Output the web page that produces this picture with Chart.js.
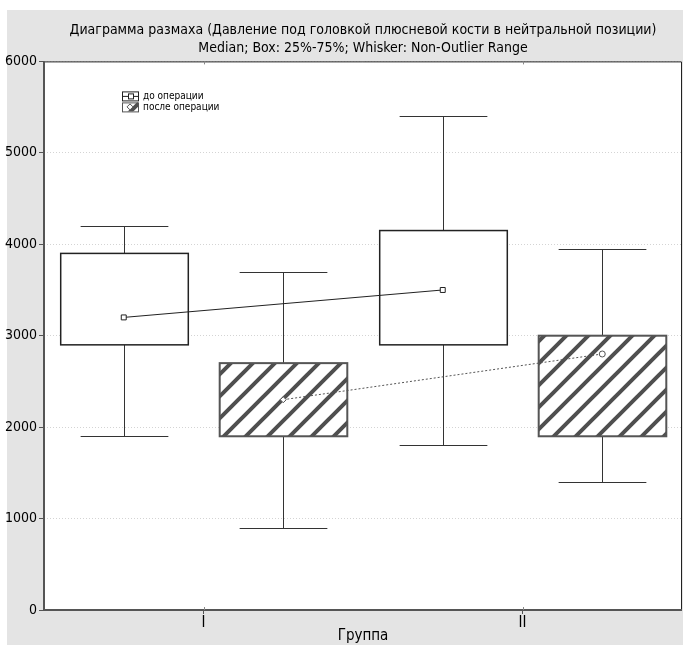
<!DOCTYPE html>
<html lang="ru">
<head>
    <meta charset="UTF-8">
    <title>Диаграмма размаха</title>
    <script src="https://cdn.jsdelivr.net/npm/chart.js"></script>
    <style>
        body { margin: 0; background: #fff; }
        canvas { display: block; }
    </style>
</head>
<body>
    <canvas id="boxChart" width="683" height="645"></canvas>
    <script>
        // chart data
        const groups = ['I', 'II'];
        const seriesNames = ['до операции', 'после операции'];
        const yTicks = [0, 1000, 2000, 3000, 4000, 5000, 6000];

        const beforeMin = [1900, 1800];
        const beforeQ1 = [2900, 2900];
        const beforeMedian = [3200, 3500];
        const beforeQ3 = [3900, 4150];
        const beforeMax = [4200, 5400];

        const afterMin = [900, 1400];
        const afterQ1 = [1900, 1900];
        const afterMedian = [2300, 2800];
        const afterQ3 = [2700, 3000];
        const afterMax = [3700, 3950];

        const FONT = '"Liberation Sans Narrow", "DejaVu Sans Condensed", "Arial Narrow", sans-serif';

        // diagonal hatch for the "после" boxes
        function makeHatch(ctx) {
            const tile = document.createElement('canvas');
            tile.width = 22;
            tile.height = 22;
            const t = tile.getContext('2d');
            t.fillStyle = '#fff';
            t.fillRect(0, 0, 22, 22);
            t.strokeStyle = '#4f4f4f';
            t.lineWidth = 4;
            t.beginPath();
            t.moveTo(-2, 24); t.lineTo(24, -2);
            t.moveTo(-13, 13); t.lineTo(13, -13);
            t.moveTo(9, 35); t.lineTo(35, 9);
            t.stroke();
            return ctx.createPattern(tile, 'repeat');
        }

        // group g -> x = 2g + 1, "до" box left of it, "после" box right of it
        const boxSeries = [
            { offset: -0.5, min: beforeMin, q1: beforeQ1, q3: beforeQ3, max: beforeMax, hatched: false },
            { offset: 0.5, min: afterMin, q1: afterQ1, q3: afterQ3, max: afterMax, hatched: true }
        ];

        const boxPlugin = {
            id: 'boxes',
            beforeDraw(chart) {
                const { ctx, chartArea: a } = chart;
                ctx.save();
                ctx.fillStyle = '#e4e4e4';
                ctx.fillRect(7, 10, chart.width - 7, chart.height - 10);
                ctx.fillStyle = '#fff';
                ctx.fillRect(a.left, a.top, a.right - a.left, a.bottom - a.top);
                ctx.restore();
            },
            beforeDatasetsDraw(chart) {
                const { ctx, scales: { x, y } } = chart;
                const hatch = makeHatch(ctx);
                ctx.save();
                boxSeries.forEach(s => {
                    groups.forEach((g, i) => {
                        const cx = 2 * i + 1 + s.offset;
                        const px = Math.round(x.getPixelForValue(cx)) + 0.5;
                        const halfBox = (x.getPixelForValue(cx + 0.4) - x.getPixelForValue(cx - 0.4)) / 2;
                        const halfCap = (x.getPixelForValue(cx + 0.275) - x.getPixelForValue(cx - 0.275)) / 2;
                        const yMin = Math.round(y.getPixelForValue(s.min[i])) + 0.5;
                        const yMax = Math.round(y.getPixelForValue(s.max[i])) + 0.5;
                        const yQ1 = y.getPixelForValue(s.q1[i]);
                        const yQ3 = y.getPixelForValue(s.q3[i]);

                        // whiskers
                        ctx.strokeStyle = '#333';
                        ctx.lineWidth = 1;
                        ctx.beginPath();
                        ctx.moveTo(px, yMax); ctx.lineTo(px, yQ3);
                        ctx.moveTo(px, yQ1); ctx.lineTo(px, yMin);
                        ctx.moveTo(px - halfCap, yMax); ctx.lineTo(px + halfCap, yMax);
                        ctx.moveTo(px - halfCap, yMin); ctx.lineTo(px + halfCap, yMin);
                        ctx.stroke();

                        // box
                        ctx.fillStyle = s.hatched ? hatch : '#fff';
                        ctx.fillRect(px - halfBox, yQ3, halfBox * 2, yQ1 - yQ3);
                        ctx.strokeStyle = s.hatched ? '#555' : '#222';
                        ctx.lineWidth = s.hatched ? 2 : 1.5;
                        ctx.strokeRect(px - halfBox, yQ3, halfBox * 2, yQ1 - yQ3);
                    });
                });
                ctx.restore();
            },
            afterDraw(chart) {
                const { ctx, chartArea: a, scales: { x } } = chart;
                ctx.save();
                // frame
                ctx.strokeStyle = '#222';
                ctx.lineWidth = 1;
                ctx.beginPath();
                ctx.moveTo(a.left, a.top + 0.5); ctx.lineTo(a.right - 0.5, a.top + 0.5);
                ctx.lineTo(a.right - 0.5, a.bottom);
                ctx.stroke();
                ctx.strokeStyle = '#555';
                ctx.lineWidth = 2;
                ctx.beginPath();
                ctx.moveTo(a.left, a.top); ctx.lineTo(a.left, a.bottom);
                ctx.lineTo(a.right, a.bottom);
                ctx.stroke();

                // small inner ticks at the groups, top and bottom
                ctx.strokeStyle = '#888';
                ctx.lineWidth = 1;
                ctx.beginPath();
                x.ticks.forEach(t => {
                    const tx = Math.round(x.getPixelForValue(t.value)) + 0.5;
                    ctx.moveTo(tx, a.top); ctx.lineTo(tx, a.top + 3);
                    ctx.moveTo(tx, a.bottom); ctx.lineTo(tx, a.bottom - 3);
                });
                ctx.stroke();

                // legend
                const lx = a.left + 78, ly = a.top + 30;
                ctx.font = '10px ' + FONT;
                ctx.fillStyle = '#000';
                ctx.textBaseline = 'middle';
                seriesNames.forEach((name, i) => {
                    const top = ly + i * 11;
                    if (i === 0) {
                        ctx.fillStyle = '#fff';
                        ctx.fillRect(lx, top, 16, 9);
                        ctx.strokeStyle = '#222';
                        ctx.lineWidth = 1;
                        ctx.strokeRect(lx + 0.5, top + 0.5, 16, 9);
                        ctx.beginPath();
                        ctx.moveTo(lx, top + 5); ctx.lineTo(lx + 17, top + 5);
                        ctx.stroke();
                        ctx.fillStyle = '#fff';
                        ctx.fillRect(lx + 6, top + 2.5, 5, 5);
                        ctx.strokeRect(lx + 6.5, top + 2.5, 5, 5);
                    } else {
                        ctx.fillStyle = makeHatch(ctx);
                        ctx.fillRect(lx, top, 16, 9);
                        ctx.strokeStyle = '#555';
                        ctx.lineWidth = 1;
                        ctx.strokeRect(lx + 0.5, top + 0.5, 16, 9);
                        ctx.fillStyle = '#fff';
                        ctx.beginPath();
                        ctx.moveTo(lx + 8, top + 1.5); ctx.lineTo(lx + 11, top + 4.5);
                        ctx.lineTo(lx + 8, top + 7.5); ctx.lineTo(lx + 5, top + 4.5);
                        ctx.closePath();
                        ctx.fill(); ctx.stroke();
                    }
                    ctx.fillStyle = '#000';
                    ctx.fillText(name, lx + 21, top + 5);
                });
                ctx.restore();
            }
        };

        const ctx = document.getElementById('boxChart').getContext('2d');
        new Chart(ctx, {
            type: 'scatter',
            data: {
                datasets: [
                    {
                        label: seriesNames[0],
                        data: groups.map((g, i) => ({ x: 2 * i + 0.5, y: beforeMedian[i] })),
                        showLine: true,
                        borderColor: '#222',
                        borderWidth: 1,
                        pointStyle: 'rect',
                        pointRadius: 3.5,
                        pointBackgroundColor: '#fff',
                        pointBorderColor: '#222',
                        pointBorderWidth: 1
                    },
                    {
                        label: seriesNames[1],
                        data: groups.map((g, i) => ({ x: 2 * i + 1.5, y: afterMedian[i] })),
                        showLine: true,
                        borderColor: '#555',
                        borderWidth: 1,
                        borderDash: [2, 2],
                        pointStyle: ['rectRot', 'circle'],
                        pointRadius: 3,
                        pointBackgroundColor: '#fff',
                        pointBorderColor: '#555',
                        pointBorderWidth: 1
                    }
                ]
            },
            options: {
                responsive: false,
                animation: false,
                devicePixelRatio: 1,
                layout: { autoPadding: false, padding: { left: 0, right: 1, top: 0, bottom: 0 } },
                plugins: {
                    legend: { display: false },
                    tooltip: { enabled: false },
                    title: {
                        display: true,
                        fullSize: false,
                        text: [
                            'Диаграмма размаха (Давление под головкой плюсневой кости в нейтральной позиции)',
                            'Median; Box: 25%-75%; Whisker: Non-Outlier Range'
                        ],
                        color: '#000',
                        font: { family: FONT, size: 14, weight: 'normal', lineHeight: 1.3 },
                        padding: { top: 21, bottom: 4 }
                    }
                },
                scales: {
                    x: {
                        type: 'linear',
                        min: 0,
                        max: 4,
                        afterBuildTicks: scale => {
                            scale.ticks = groups.map((g, i) => ({ value: 2 * i + 1 }));
                        },
                        afterFit: scale => {
                            scale.height = 35;
                            scale.paddingLeft = 0;
                            scale.paddingRight = 0;
                        },
                        ticks: {
                            font: { family: FONT, size: 15 },
                            color: '#000',
                            padding: 0,
                            callback: v => groups[(v - 1) / 2]
                        },
                        grid: { drawOnChartArea: false, tickLength: 4, tickColor: '#555' },
                        border: { display: false },
                        title: {
                            display: true,
                            text: 'Группа',
                            color: '#000',
                            font: { family: FONT, size: 15 },
                            padding: { top: -3, bottom: 0 }
                        }
                    },
                    y: {
                        min: 0,
                        max: 6000,
                        afterBuildTicks: scale => {
                            scale.ticks = yTicks.map(v => ({ value: v }));
                        },
                        afterFit: scale => { scale.width = 44; },
                        ticks: {
                            font: { family: FONT, size: 14 },
                            color: '#000',
                            padding: 2,
                            callback: v => String(v)
                        },
                        grid: { color: '#d4d4d4', tickLength: 5, tickColor: '#555', tickBorderDash: [] },
                        border: { display: false, dash: [1, 2] }
                    }
                }
            },
            plugins: [boxPlugin]
        });
    </script>
</body>
</html>
